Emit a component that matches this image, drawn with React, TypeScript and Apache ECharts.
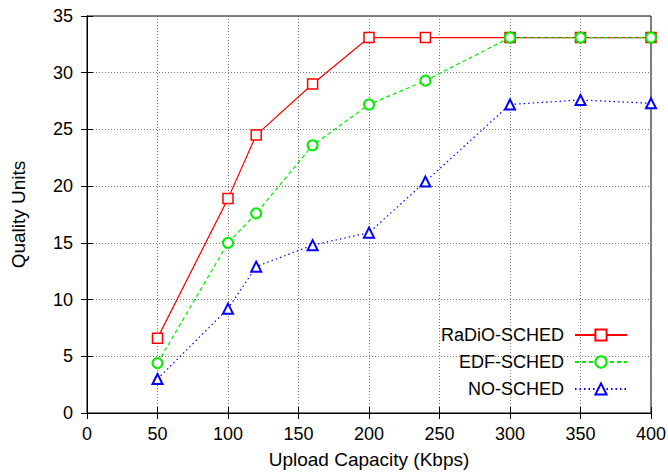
import React, { useEffect, useRef } from "react";
import * as echarts from "echarts";

const xValues = [50, 100, 120, 160, 200, 240, 300, 350, 400];
const radioSched = [6.6, 18.9, 24.5, 29.0, 33.1, 33.1, 33.1, 33.1, 33.1];
const edfSched = [4.4, 15.0, 17.6, 23.6, 27.2, 29.3, 33.1, 33.1, 33.1];
const noSched = [3.0, 9.2, 12.9, 14.8, 15.9, 20.4, 27.2, 27.6, 27.3];

const FONT = "Liberation Sans, Arial, Helvetica, sans-serif";

export default function App() {
  const ref = useRef<HTMLDivElement>(null);
  useEffect(() => {
    if (!ref.current) return;
    const chart = echarts.init(ref.current, undefined, { renderer: "svg" });
    const pair = (ys: number[]) => xValues.map((x, i) => [x, ys[i]]);
    const splitLine = { show: true, lineStyle: { color: "#777", type: [1, 2] as any, width: 1 } };
    const tickStyle = { show: true, inside: true, length: 6, lineStyle: { color: "#000", width: 1 } };
    chart.setOption({
      animation: false,
      backgroundColor: "#fff",
      textStyle: { fontFamily: FONT },
      grid: {
        left: 87,
        right: 17,
        top: 16,
        bottom: 59,
        show: true,
        borderColor: "#000",
        borderWidth: 1,
        containLabel: false,
        outerBoundsMode: "none",
      } as any,
      legend: {
        orient: "vertical",
        right: 35,
        top: 321,
        align: "right",
        itemWidth: 52,
        itemHeight: 14,
        itemGap: 9,
        textStyle: { fontFamily: FONT, fontSize: 18, color: "#000", padding: [0, 6, 0, 0] },
        data: ["RaDiO-SCHED", "EDF-SCHED", "NO-SCHED"],
      },
      xAxis: [
        {
          type: "value",
          min: 0,
          max: 400,
          interval: 50,
          name: "Upload Capacity (Kbps)",
          nameLocation: "middle",
          nameGap: 37,
          nameTextStyle: { fontFamily: FONT, fontSize: 19, color: "#000" },
          axisLine: { show: true, lineStyle: { color: "#000", width: 1 } },
          axisTick: tickStyle,
          axisLabel: { fontFamily: FONT, fontSize: 18, color: "#000", margin: 12 },
          splitLine,
        },
        {
          type: "value",
          position: "top",
          min: 0,
          max: 400,
          interval: 50,
          axisLine: { show: true, lineStyle: { color: "#000" } },
          axisTick: tickStyle,
          axisLabel: { show: false },
          splitLine: { show: false },
        },
      ],
      yAxis: [
        {
          type: "value",
          min: 0,
          max: 35,
          interval: 5,
          name: "Quality Units",
          nameLocation: "middle",
          nameGap: 59,
          nameTextStyle: { fontFamily: FONT, fontSize: 19, color: "#000" },
          axisLine: { show: true, lineStyle: { color: "#000", width: 1 } },
          axisTick: tickStyle,
          axisLabel: { fontFamily: FONT, fontSize: 18, color: "#000", margin: 14 },
          splitLine,
        },
        {
          type: "value",
          position: "right",
          min: 0,
          max: 35,
          interval: 5,
          axisLine: { show: true, lineStyle: { color: "#000" } },
          axisTick: tickStyle,
          axisLabel: { show: false },
          splitLine: { show: false },
        },
      ],
      series: [
        {
          name: "RaDiO-SCHED",
          type: "line",
          data: pair(radioSched),
          symbol: "rect",
          symbolSize: 10,
          itemStyle: { color: "#fff", borderColor: "#ff0000", borderWidth: 1.5 },
          lineStyle: { color: "#ff0000", width: 1.2, type: "solid" },
          color: "#ff0000",
          z: 3,
        },
        {
          name: "EDF-SCHED",
          type: "line",
          data: pair(edfSched),
          symbol: "emptyCircle",
          symbolSize: 10,
          itemStyle: { color: "#00ee00", borderColor: "#00ee00", borderWidth: 1.5 },
          lineStyle: { color: "#00ee00", width: 1.2, type: [4, 3] as any },
          color: "#00ee00",
          z: 4,
        },
        {
          name: "NO-SCHED",
          type: "line",
          data: pair(noSched),
          symbol: "emptyTriangle",
          symbolSize: 10,
          itemStyle: { color: "#0000ff", borderColor: "#0000ff", borderWidth: 1.5 },
          lineStyle: { color: "#0000ff", width: 1.2, type: [1.5, 3] as any },
          color: "#0000ff",
          z: 5,
        },
      ],
    });
    return () => chart.dispose();
  }, []);
  return <div ref={ref} style={{ width: 668, height: 472, position: "absolute", left: 0, top: 0 }} />;
}
